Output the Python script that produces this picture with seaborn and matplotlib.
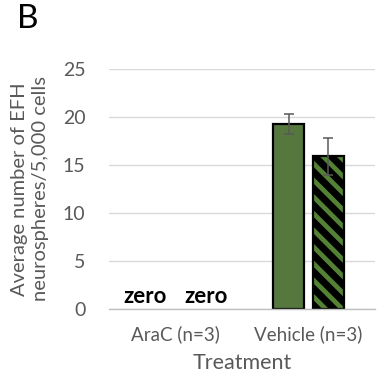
import pandas as pd
import matplotlib
matplotlib.use("Agg")
import matplotlib.pyplot as plt
from matplotlib.patches import Rectangle
import seaborn as sns

# Datos
tratamientos = ["AraC (n=3)", "AraC (n=3)", "Vehicle (n=3)", "Vehicle (n=3)"]
grupo = ["A", "B", "A", "B"]
promedio = [0.0, 0.0, 19.3, 15.9]
error = [0.0, 0.0, 1.05, 1.9]
etiquetas_cero = ["zero", "zero", "", ""]

verde = "#548235"
gris = "#595959"

sns.set_style("white")
plt.rcParams["font.family"] = ["Lato", "DejaVu Sans"]
plt.rcParams["hatch.linewidth"] = 3.4

df = pd.DataFrame({"Treatment": tratamientos, "Grupo": grupo, "Valor": promedio})

fig = plt.figure(figsize=(3.85, 3.81), dpi=100)
ax = fig.add_axes([0.283, 0.189, 0.691, 0.63])

sns.barplot(data=df, x="Treatment", y="Valor", hue="Grupo", errorbar=None,
            palette=[verde, verde], width=0.59, gap=0.21, legend=False,
            edgecolor="black", linewidth=1.6, ax=ax)

barras = sorted(ax.patches, key=lambda p: p.get_x())

for i, b in enumerate(barras):
    cx = b.get_x() + b.get_width() / 2
    if promedio[i] == 0:
        b.set_linewidth(0)
    elif grupo[i] == "B":
        # fondo negro con rayas verdes y borde negro encima
        b.set_facecolor("black")
        b.set_edgecolor(verde)
        b.set_linewidth(0)
        b.set_hatch("\\\\")
        ax.add_patch(Rectangle((b.get_x(), b.get_y()), b.get_width(), b.get_height(),
                               fill=False, edgecolor="black", linewidth=1.6, zorder=b.get_zorder() + 0.1))
    if error[i] > 0:
        ax.errorbar(cx, promedio[i], yerr=error[i], fmt="none", ecolor=gris,
                    elinewidth=1.1, capsize=3.5, capthick=1.1, zorder=5)
    if etiquetas_cero[i]:
        desp = -0.08 if grupo[i] == "A" else 0.08
        ax.text(cx + desp, 0.2, etiquetas_cero[i], ha="center", va="bottom",
                fontsize=16, fontweight="bold", color="black")

ax.set_ylim(0, 25)
ax.set_xlim(-0.5, 1.5)
ax.set_yticks([0, 5, 10, 15, 20, 25])
ax.yaxis.grid(True, color="#d9d9d9", linewidth=1)
ax.set_axisbelow(True)
for s in ["top", "right", "left"]:
    ax.spines[s].set_visible(False)
ax.spines["bottom"].set_color("#bfbfbf")
ax.spines["bottom"].set_linewidth(1)

ax.set_xticks([0, 1])
ax.set_xticklabels(["AraC (n=3)", "Vehicle (n=3)"])
ax.set_xticks([-0.5, 0.5, 1.5], minor=True)
ax.tick_params(axis="x", which="major", length=0, pad=12, labelsize=13.5, labelcolor=gris)
ax.tick_params(axis="x", which="minor", length=5, color="#bfbfbf", width=1, direction="out")
ax.tick_params(axis="y", length=0, pad=17, labelsize=14, labelcolor=gris)

ax.set_xlabel("Treatment", fontsize=15.5, color=gris, labelpad=7)
ax.set_ylabel("Average number of EFH\nneurospheres/5,000 cells", fontsize=14.5,
              color=gris, labelpad=10, linespacing=1.3)

fig.text(0.045, 0.99, "B", fontsize=24, color="black", va="top", ha="left")

plt.savefig("out.png", dpi=100)
